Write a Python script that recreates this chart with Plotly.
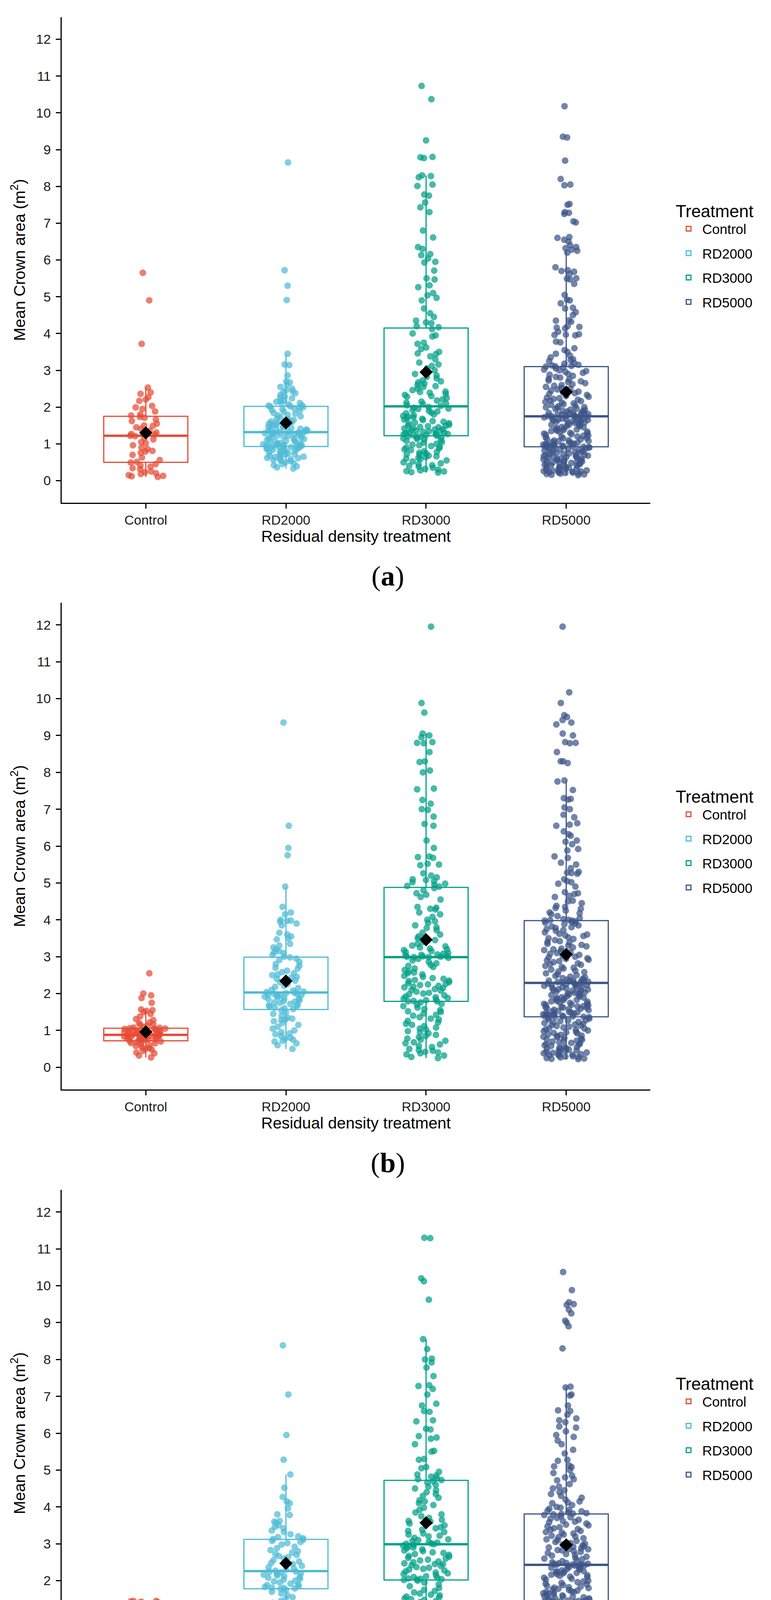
import plotly.graph_objects as go

treatments = ["Control", "RD2000", "RD3000", "RD5000"]
colours = ["#E64B35", "#4DBBD5", "#00A087", "#3C5488"]
point_colours = ["rgba(230,75,53,0.72)", "rgba(77,187,213,0.72)",
                 "rgba(0,160,135,0.72)", "rgba(60,84,136,0.72)"]

# ---- panel (a) ----
a_control = [5.65, 4.90, 3.72, 2.53, 2.40, 2.36, 2.27, 2.21, 2.17, 2.03, 1.99, 1.95, 1.88, 1.80, 1.77,
             1.73, 1.71, 1.66, 1.62, 1.55, 1.50, 1.49, 1.45, 1.41, 1.36, 1.31, 1.27, 1.25, 1.22, 1.21,
             1.16, 1.12, 1.05, 1.02, 0.96, 0.90, 0.86, 0.81, 0.79, 0.76, 0.70, 0.63, 0.56, 0.51, 0.49,
             0.45, 0.41, 0.38, 0.34, 0.31, 0.25, 0.23, 0.20, 0.18, 0.15, 0.13, 0.12, 0.10]
a_rd2000 = [8.65, 5.72, 5.30, 4.91, 3.45, 3.16, 3.14, 2.86, 2.70, 2.67, 2.61, 2.55, 2.50, 2.46, 2.43,
            2.41, 2.38, 2.34, 2.29, 2.26, 2.24, 2.19, 2.17, 2.14, 2.11, 2.10, 2.07, 2.05, 2.04, 2.02,
            2.01, 2.00, 1.99, 1.97, 1.94, 1.92, 1.90, 1.87, 1.84, 1.82, 1.79, 1.77, 1.75, 1.71, 1.69,
            1.67, 1.65, 1.63, 1.61, 1.59, 1.57, 1.55, 1.53, 1.52, 1.50, 1.48, 1.46, 1.45, 1.43, 1.41,
            1.40, 1.39, 1.37, 1.36, 1.35, 1.34, 1.33, 1.32, 1.31, 1.30, 1.29, 1.28, 1.27, 1.26, 1.24,
            1.23, 1.22, 1.20, 1.19, 1.17, 1.16, 1.14, 1.13, 1.11, 1.09, 1.08, 1.07, 1.05, 1.04, 1.03,
            1.01, 1.00, 0.99, 0.98, 0.97, 0.96, 0.95, 0.95, 0.94, 0.93, 0.93, 0.92, 0.91, 0.90, 0.88,
            0.87, 0.86, 0.84, 0.83, 0.81, 0.80, 0.79, 0.77, 0.76, 0.74, 0.72, 0.71, 0.70, 0.68, 0.67,
            0.65, 0.64, 0.62, 0.61, 0.59, 0.58, 0.56, 0.55, 0.53, 0.50, 0.47, 0.45, 0.42, 0.39, 0.36, 0.33]
a_rd3000 = [10.73, 10.37, 9.25, 8.80, 8.79, 8.77, 8.30, 8.28, 8.25, 8.05, 8.01, 7.78, 7.75, 7.56, 7.43,
            7.30, 6.80, 6.61, 6.35, 6.30, 6.16, 6.13, 6.04, 5.95, 5.93, 5.71, 5.50, 5.47, 5.31, 5.26,
            5.10, 5.04, 4.97, 4.90, 4.68, 4.55, 4.45, 4.35, 4.30, 4.28, 4.20, 4.17, 4.12, 4.00, 3.95,
            3.92, 3.75, 3.72, 3.62, 3.58, 3.50, 3.46, 3.44, 3.38, 3.30, 3.21, 3.16, 3.12, 3.05, 3.00,
            2.95, 2.90, 2.86, 2.82, 2.78, 2.72, 2.70, 2.67, 2.64, 2.60, 2.57, 2.55, 2.50, 2.46, 2.42,
            2.41, 2.39, 2.36, 2.33, 2.30, 2.28, 2.25, 2.21, 2.18, 2.15, 2.12, 2.10, 2.08, 2.05, 2.03,
            2.00, 1.98, 1.96, 1.95, 1.92, 1.90, 1.88, 1.85, 1.83, 1.80, 1.78, 1.76, 1.74, 1.72, 1.70,
            1.68, 1.66, 1.65, 1.62, 1.60, 1.58, 1.56, 1.55, 1.52, 1.50, 1.49, 1.48, 1.46, 1.45, 1.43,
            1.42, 1.40, 1.39, 1.38, 1.36, 1.35, 1.34, 1.33, 1.32, 1.30, 1.29, 1.28, 1.27, 1.26, 1.25,
            1.24, 1.23, 1.22, 1.21, 1.20, 1.18, 1.17, 1.15, 1.13, 1.12, 1.10, 1.08, 1.05, 1.03, 1.00,
            0.98, 0.96, 0.94, 0.92, 0.90, 0.88, 0.85, 0.83, 0.80, 0.78, 0.76, 0.74, 0.72, 0.70, 0.68,
            0.66, 0.64, 0.62, 0.60, 0.58, 0.55, 0.52, 0.50, 0.47, 0.45, 0.42, 0.40, 0.38, 0.35, 0.32,
            0.30, 0.28, 0.26, 0.25, 0.23, 0.22]
a_rd5000 = [10.18, 9.35, 9.33, 8.70, 8.20, 8.05, 8.03, 7.52, 7.50, 7.30, 7.28, 7.25, 7.05, 7.02, 6.62,
            6.60, 6.55, 6.50, 6.40, 6.35, 6.32, 6.28, 6.25, 6.20, 5.80, 5.72, 5.70, 5.68, 5.62, 5.50,
            5.49, 5.47, 5.35, 5.05, 4.92, 4.90, 4.82, 4.70, 4.68, 4.58, 4.50, 4.36, 4.35, 4.32, 4.20,
            4.18, 4.16, 4.14, 4.05, 3.98, 3.97, 3.96, 3.95, 3.78, 3.76, 3.60, 3.55, 3.50, 3.45, 3.40,
            3.35, 3.30, 3.28, 3.25, 3.20, 3.18, 3.15, 3.13, 3.12, 3.11, 3.10, 3.08, 3.05, 3.02, 3.00,
            2.98, 2.96, 2.93, 2.90, 2.88, 2.85, 2.82, 2.80, 2.77, 2.75, 2.72, 2.70, 2.68, 2.65, 2.62,
            2.60, 2.58, 2.55, 2.52, 2.50, 2.48, 2.45, 2.42, 2.40, 2.38, 2.36, 2.33, 2.30, 2.28, 2.26,
            2.24, 2.22, 2.20, 2.18, 2.16, 2.14, 2.12, 2.10, 2.08, 2.06, 2.04, 2.02, 2.00, 1.99, 1.98,
            1.96, 1.95, 1.93, 1.92, 1.90, 1.89, 1.88, 1.86, 1.85, 1.84, 1.83, 1.82, 1.81, 1.80, 1.79,
            1.78, 1.77, 1.76, 1.76, 1.75, 1.75, 1.74, 1.73, 1.72, 1.71, 1.70, 1.69, 1.68, 1.67, 1.66,
            1.65, 1.64, 1.63, 1.62, 1.61, 1.60, 1.58, 1.57, 1.56, 1.55, 1.53, 1.52, 1.50, 1.49, 1.48,
            1.46, 1.45, 1.43, 1.42, 1.40, 1.39, 1.37, 1.36, 1.35, 1.33, 1.32, 1.30, 1.29, 1.28, 1.26,
            1.25, 1.23, 1.22, 1.20, 1.19, 1.18, 1.16, 1.15, 1.13, 1.12, 1.10, 1.09, 1.08, 1.07, 1.05,
            1.04, 1.03, 1.02, 1.01, 1.00, 0.99, 0.98, 0.97, 0.96, 0.95, 0.95, 0.94, 0.93, 0.93, 0.92,
            0.92, 0.91, 0.90, 0.90, 0.88, 0.87, 0.87, 0.85, 0.83, 0.82, 0.82, 0.80, 0.78, 0.77, 0.77,
            0.75, 0.73, 0.72, 0.70, 0.70, 0.69, 0.67, 0.65, 0.64, 0.64, 0.62, 0.60, 0.59, 0.58, 0.56,
            0.55, 0.55, 0.53, 0.51, 0.50, 0.49, 0.48, 0.46, 0.45, 0.45, 0.43, 0.42, 0.41, 0.40, 0.38,
            0.37, 0.36, 0.35, 0.35, 0.33, 0.32, 0.31, 0.30, 0.30, 0.28, 0.27, 0.26, 0.25, 0.25, 0.24,
            0.23, 0.22, 0.22, 0.21, 0.20, 0.19, 0.18, 0.17, 0.16, 0.15, 0.62, 0.58, 0.48, 0.52, 0.68, 0.74]
a_q1 = [0.50, 0.93, 1.22, 0.92]
a_median = [1.22, 1.32, 2.02, 1.75]
a_q3 = [1.75, 2.02, 4.15, 3.10]
a_low = [0.10, 0.33, 0.22, 0.15]
a_high = [2.53, 3.45, 8.30, 6.28]
a_mean = [1.30, 1.57, 2.95, 2.41]

# ---- panel (b) ----
b_control = [2.55, 2.00, 1.95, 1.88, 1.75, 1.57, 1.55, 1.53, 1.50, 1.45, 1.38, 1.31, 1.28, 1.22, 1.20,
             1.17, 1.15, 1.12, 1.10, 1.08, 1.07, 1.06, 1.05, 1.05, 1.04, 1.03, 1.02, 1.01, 1.00, 0.99,
             0.99, 0.98, 0.97, 0.96, 0.95, 0.94, 0.93, 0.92, 0.91, 0.90, 0.89, 0.88, 0.87, 0.86, 0.86,
             0.85, 0.84, 0.83, 0.82, 0.81, 0.80, 0.80, 0.79, 0.78, 0.77, 0.76, 0.75, 0.74, 0.73, 0.72,
             0.72, 0.70, 0.68, 0.66, 0.65, 0.62, 0.60, 0.58, 0.55, 0.52, 0.50, 0.48, 0.45, 0.40, 0.38,
             0.32, 0.27]
b_rd2000 = [9.35, 6.55, 5.95, 5.75, 4.90, 4.35, 4.20, 4.15, 4.00, 3.98, 3.97, 3.95, 3.90, 3.85, 3.65,
            3.60, 3.55, 3.50, 3.47, 3.35, 3.30, 3.25, 3.20, 3.15, 3.12, 3.10, 3.05, 3.00, 2.98, 2.95,
            2.91, 2.86, 2.80, 2.76, 2.70, 2.68, 2.62, 2.58, 2.55, 2.52, 2.50, 2.45, 2.43, 2.40, 2.35,
            2.31, 2.26, 2.21, 2.18, 2.15, 2.10, 2.08, 2.05, 2.04, 2.02, 2.01, 2.00, 1.99, 1.98, 1.96,
            1.95, 1.93, 1.92, 1.90, 1.88, 1.86, 1.85, 1.82, 1.80, 1.78, 1.76, 1.75, 1.72, 1.70, 1.68,
            1.66, 1.65, 1.62, 1.60, 1.58, 1.55, 1.50, 1.45, 1.40, 1.35, 1.32, 1.30, 1.28, 1.25, 1.20,
            1.15, 1.10, 1.05, 1.00, 0.95, 0.92, 0.90, 0.85, 0.80, 0.78, 0.75, 0.72, 0.70, 0.65, 0.60, 0.50]
b_rd3000 = [11.95, 9.88, 9.62, 9.05, 9.00, 8.95, 8.82, 8.80, 8.79, 8.55, 8.30, 8.28, 8.05, 8.00, 7.56,
            7.54, 7.25, 7.15, 7.00, 6.98, 6.80, 6.60, 6.55, 6.15, 5.95, 5.72, 5.70, 5.68, 5.52, 5.50,
            5.48, 5.26, 5.20, 5.15, 5.10, 5.08, 5.05, 5.02, 4.98, 4.95, 4.92, 4.90, 4.86, 4.80, 4.72,
            4.68, 4.62, 4.55, 4.35, 4.33, 4.30, 4.28, 4.20, 4.15, 4.08, 4.00, 3.96, 3.92, 3.85, 3.80,
            3.78, 3.72, 3.65, 3.60, 3.55, 3.52, 3.50, 3.45, 3.40, 3.35, 3.30, 3.28, 3.25, 3.22, 3.20,
            3.18, 3.15, 3.12, 3.10, 3.08, 3.05, 3.03, 3.01, 3.00, 3.00, 2.99, 2.99, 3.02, 3.06, 2.97,
            2.94, 2.90, 2.86, 2.82, 2.78, 2.75, 2.72, 2.68, 2.64, 2.60, 2.57, 2.55, 2.52, 2.48, 2.45,
            2.42, 2.40, 2.37, 2.34, 2.31, 2.28, 2.25, 2.23, 2.21, 2.19, 2.17, 2.15, 2.12, 2.10, 2.08,
            2.05, 2.02, 2.00, 1.98, 1.95, 1.92, 1.90, 1.88, 1.86, 1.84, 1.82, 1.80, 1.79, 1.79, 2.26,
            2.35, 1.76, 1.72, 1.70, 1.66, 1.62, 1.58, 1.55, 1.52, 1.50, 1.46, 1.42, 1.40, 1.36, 1.32,
            1.30, 1.26, 1.22, 1.18, 1.15, 1.12, 1.08, 1.05, 1.02, 0.98, 0.95, 0.92, 0.88, 0.85, 0.82,
            0.78, 0.75, 0.72, 0.68, 0.65, 0.62, 0.58, 0.55, 0.50, 0.47, 0.45, 0.42, 0.40, 0.38, 0.35,
            0.32, 0.28, 0.25]
b_rd5000 = [11.95, 10.17, 9.88, 9.55, 9.50, 9.42, 9.35, 9.30, 9.05, 9.00, 8.82, 8.80, 8.79, 8.55, 8.30,
            8.30, 8.25, 7.78, 7.75, 7.52, 7.30, 7.28, 7.26, 7.05, 7.00, 6.78, 6.62, 6.58, 6.55, 6.40,
            6.28, 6.15, 6.12, 5.92, 5.88, 5.72, 5.68, 5.55, 5.50, 5.30, 5.28, 5.27, 5.25, 5.05, 4.98,
            4.90, 4.75, 4.72, 4.70, 4.65, 4.52, 4.50, 4.45, 4.35, 4.32, 4.30, 4.25, 4.20, 4.18, 4.15,
            4.10, 4.05, 4.02, 4.00, 3.99, 3.98, 3.98, 4.38, 4.62, 5.02, 5.10, 5.40, 6.05, 6.32, 6.85,
            3.96, 3.94, 3.92, 3.90, 3.88, 3.85, 3.82, 3.80, 3.78, 3.75, 3.72, 3.70, 3.66, 3.62, 3.60,
            3.58, 3.56, 3.52, 3.50, 3.48, 3.45, 3.42, 3.40, 3.38, 3.35, 3.32, 3.30, 3.28, 3.25, 3.22,
            3.20, 3.18, 3.15, 3.12, 3.10, 3.08, 3.05, 3.02, 3.00, 2.98, 2.96, 2.94, 2.92, 2.90, 2.88,
            2.85, 2.82, 2.80, 2.78, 2.75, 2.72, 2.70, 2.68, 2.65, 2.62, 2.60, 2.58, 2.55, 2.52, 2.50,
            2.48, 2.46, 2.44, 2.42, 2.40, 2.38, 2.37, 2.36, 2.35, 2.34, 2.33, 2.32, 2.31, 2.30, 2.30,
            2.28, 2.27, 2.26, 2.25, 2.24, 2.22, 2.21, 2.20, 2.18, 2.17, 2.15, 2.14, 2.12, 2.10, 2.09,
            2.08, 2.06, 2.05, 2.03, 2.02, 2.00, 1.99, 1.98, 1.96, 1.95, 1.93, 1.92, 1.90, 1.89, 1.88,
            1.86, 1.85, 1.83, 1.82, 1.80, 1.79, 1.78, 1.76, 1.75, 1.73, 1.72, 1.70, 1.69, 1.68, 1.66,
            1.65, 1.63, 1.62, 1.60, 1.59, 1.58, 1.56, 1.55, 1.53, 1.52, 1.50, 1.49, 1.48, 1.47, 1.46,
            1.45, 1.44, 1.43, 1.42, 1.41, 1.40, 1.39, 1.38, 1.38, 1.37, 1.37, 1.62, 1.64, 2.23, 2.11,
            1.36, 1.34, 1.32, 1.30, 1.28, 1.27, 1.25, 1.23, 1.22, 1.20, 1.18, 1.16, 1.15, 1.13, 1.12,
            1.10, 1.08, 1.06, 1.05, 1.03, 1.02, 1.00, 0.98, 0.96, 0.95, 0.93, 0.92, 0.90, 0.88, 0.86,
            0.85, 0.83, 0.82, 0.80, 0.78, 0.76, 0.75, 0.73, 0.72, 0.70, 0.68, 0.66, 0.65, 0.63, 0.62,
            0.60, 0.58, 0.56, 0.55, 0.53, 0.52, 0.50, 0.49, 0.48, 0.46, 0.45, 0.44, 0.42, 0.41, 0.40,
            0.39, 0.38, 0.36, 0.35, 0.34, 0.33, 0.32, 0.30, 0.29, 0.28, 0.27, 0.25, 0.24, 0.23, 0.22]
b_q1 = [0.72, 1.57, 1.79, 1.37]
b_median = [0.88, 2.03, 2.99, 2.29]
b_q3 = [1.06, 2.99, 4.88, 3.98]
b_low = [0.27, 0.50, 0.25, 0.22]
b_high = [1.53, 4.90, 9.05, 7.77]
b_mean = [0.96, 2.34, 3.46, 3.06]

# ---- panel (c) ----
c_control = [1.45, 1.45, 1.44, 1.43, 1.42, 1.40, 1.38, 1.35, 1.33, 1.30, 1.25, 1.20, 1.15, 1.10, 1.06,
             1.03, 1.00, 0.96, 0.93, 0.90, 0.87, 0.84, 0.81, 0.78, 0.76, 0.74, 0.73, 0.72, 0.71, 0.70,
             0.69, 0.68, 0.66, 0.65, 0.63, 0.62, 0.60, 0.58, 0.57, 0.55, 0.52, 0.48, 0.45, 0.42, 0.38,
             0.35, 0.30, 0.25, 0.23, 0.12]
c_rd2000 = [8.38, 7.05, 5.95, 5.28, 4.88, 4.52, 4.27, 4.15, 4.10, 3.96, 3.80, 3.78, 3.62, 3.60, 3.57,
            3.50, 3.46, 3.42, 3.36, 3.32, 3.26, 3.20, 3.18, 3.15, 3.13, 3.11, 3.08, 3.05, 3.02, 2.98,
            2.92, 2.88, 2.83, 2.80, 2.76, 2.72, 2.70, 2.67, 2.64, 2.60, 2.56, 2.52, 2.48, 2.45, 2.40,
            2.36, 2.33, 2.30, 2.27, 2.25, 2.24, 2.22, 2.20, 2.18, 2.16, 2.14, 2.12, 2.10, 2.08, 2.05,
            2.03, 2.00, 1.98, 1.95, 1.92, 1.90, 1.88, 1.85, 1.83, 1.81, 1.80, 1.79, 1.78, 1.75, 1.70,
            1.65, 1.60, 1.55, 1.50, 1.45, 1.40, 1.35, 1.32, 1.28, 1.25, 1.20, 1.15, 1.10, 1.05, 1.00,
            0.96, 0.92, 0.85, 0.80, 0.74, 0.70, 0.68, 0.50]
c_rd3000 = [11.30, 11.29, 10.20, 10.12, 9.62, 8.55, 8.28, 8.02, 8.00, 7.92, 7.78, 7.55, 7.30, 7.28, 7.20,
            7.05, 6.80, 6.75, 6.60, 6.58, 6.35, 6.32, 6.12, 6.10, 5.92, 5.88, 5.85, 5.70, 5.52, 5.50,
            5.30, 5.28, 5.08, 5.05, 4.95, 4.88, 4.85, 4.82, 4.78, 4.75, 4.73, 4.70, 4.66, 4.60, 4.55,
            4.50, 4.45, 4.40, 4.35, 4.30, 4.25, 4.18, 4.15, 4.10, 4.05, 3.98, 3.92, 3.85, 3.80, 3.75,
            3.70, 3.65, 3.60, 3.55, 3.50, 3.45, 3.42, 3.38, 3.35, 3.32, 3.28, 3.25, 3.22, 3.20, 3.16,
            3.12, 3.10, 3.08, 3.05, 3.03, 3.01, 3.00, 2.99, 3.62, 2.97, 2.95, 2.92, 2.90, 2.88, 2.85,
            2.82, 2.80, 2.77, 2.75, 2.72, 2.70, 2.67, 2.65, 2.62, 2.60, 2.57, 2.55, 2.52, 2.50, 2.47,
            2.45, 2.42, 2.40, 2.37, 2.35, 2.32, 2.30, 2.28, 2.25, 2.22, 2.20, 2.18, 2.15, 2.12, 2.10,
            2.08, 2.06, 2.05, 2.04, 2.03, 2.02, 2.45, 2.00, 1.95, 1.90, 1.85, 1.80, 1.75, 1.72, 1.68,
            1.65, 1.62, 1.60, 1.57, 1.55, 1.52, 1.50, 1.45, 1.42, 1.38, 1.35, 1.30, 1.25, 1.22, 1.20,
            1.15, 1.12, 1.10, 1.05, 1.02, 1.00, 0.95, 0.90, 0.85, 0.75, 0.65, 0.62, 0.58, 0.50, 0.47,
            0.42, 0.35, 0.32, 0.30, 1.48]
c_rd5000 = [10.37, 9.88, 9.55, 9.50, 9.48, 9.35, 9.25, 9.05, 9.00, 8.90, 8.30, 7.26, 7.24, 7.05, 7.02,
            6.75, 6.62, 6.60, 6.40, 6.35, 6.30, 6.18, 6.15, 5.95, 5.90, 5.80, 5.70, 5.45, 5.28, 5.25,
            5.10, 5.08, 5.00, 4.92, 4.80, 4.75, 4.72, 4.55, 4.50, 4.45, 4.40, 4.35, 4.30, 4.25, 4.20,
            4.15, 4.12, 4.10, 4.05, 4.00, 3.95, 3.92, 3.90, 3.88, 3.85, 3.83, 3.82, 3.81, 4.62, 4.85,
            5.12, 5.55, 6.05, 6.50, 3.98, 3.80, 3.78, 3.75, 3.72, 3.70, 3.68, 3.65, 3.62, 3.60, 3.58,
            3.55, 3.52, 3.50, 3.47, 3.45, 3.42, 3.40, 3.38, 3.35, 3.32, 3.30, 3.28, 3.25, 3.22, 3.20,
            3.18, 3.15, 3.12, 3.10, 3.08, 3.05, 3.02, 3.00, 2.98, 2.96, 2.95, 2.93, 2.92, 2.90, 2.88,
            2.86, 2.85, 2.83, 2.82, 2.80, 2.78, 2.75, 2.72, 2.70, 2.68, 2.65, 2.62, 2.60, 2.58, 2.55,
            2.53, 2.50, 2.48, 2.47, 2.46, 2.45, 2.44, 2.44, 2.43, 2.43, 2.42, 2.41, 2.40, 2.38, 2.37,
            2.35, 2.33, 2.32, 2.30, 2.28, 2.26, 2.25, 2.23, 2.21, 2.20, 2.18, 2.16, 2.15, 2.13, 2.11,
            2.10, 2.08, 2.05, 2.03, 2.00, 1.98, 1.96, 1.94, 1.92, 1.90, 1.88, 1.86, 1.84, 1.82, 1.80,
            1.78, 1.76, 1.75, 1.73, 1.71, 1.70, 1.68, 1.66, 1.65, 1.63, 1.61, 1.60, 1.58, 1.56, 1.55,
            1.53, 1.52, 1.50, 1.49, 1.48, 1.47, 1.46, 1.45, 1.45, 1.44, 1.44, 1.57, 1.69, 1.81, 2.24,
            1.43, 1.42, 1.40, 1.38, 1.36, 1.35, 1.33, 1.31, 1.30, 1.28, 1.26, 1.25, 1.23, 1.21, 1.20,
            1.18, 1.16, 1.15, 1.13, 1.12, 1.10, 1.08, 1.06, 1.05, 1.03, 1.02, 1.00, 0.98, 0.96, 0.95,
            0.93, 0.92, 0.90, 0.88, 0.86, 0.85, 0.82, 0.80, 0.78, 0.76, 0.75, 0.72, 0.70, 0.68, 0.65,
            0.62, 0.60, 0.58, 0.55, 0.52, 0.50, 0.48, 0.45, 0.42, 0.40, 0.38, 0.35, 0.32, 0.30, 0.28,
            0.25, 0.22, 1.17, 1.27, 1.37]
c_q1 = [0.56, 1.78, 2.02, 1.44]
c_median = [0.73, 2.26, 2.99, 2.43]
c_q3 = [1.13, 3.12, 4.72, 3.81]
c_low = [0.12, 0.50, 0.30, 0.22]
c_high = [1.45, 4.88, 8.55, 7.26]
c_mean = [0.82, 2.47, 3.57, 2.97]

panels = [
    dict(label="a", top=44, bottom=1287,
         points=[a_control, a_rd2000, a_rd3000, a_rd5000],
         q1=a_q1, median=a_median, q3=a_q3, low=a_low, high=a_high, mean=a_mean),
    dict(label="b", top=1543, bottom=2789,
         points=[b_control, b_rd2000, b_rd3000, b_rd5000],
         q1=b_q1, median=b_median, q3=b_q3, low=b_low, high=b_high, mean=b_mean),
    dict(label="c", top=3046, bottom=4292,
         points=[c_control, c_rd2000, c_rd3000, c_rd5000],
         q1=c_q1, median=c_median, q3=c_q3, low=c_low, high=c_high, mean=c_mean),
]

W, H = 1974, 4541
OFF = 8  # page body margin, subtracted so the figure lands where the reference is
font_family = "Liberation Sans, Arial, sans-serif"


def px_x(px):
    return (px - OFF) / W


def px_y(px):
    # pixel row -> paper fraction
    return 1 - (px - OFF) / H


fig = go.Figure()
layout = {}
annotations = []

for i, p in enumerate(panels):
    sfx = "" if i == 0 else str(i + 1)
    xa, ya = "x" + sfx, "y" + sfx
    leg = "legend" + sfx
    for j, t in enumerate(treatments):
        # box + whiskers
        fig.add_trace(go.Box(
            x=[t], q1=[p["q1"][j]], median=[p["median"][j]], q3=[p["q3"][j]],
            lowerfence=[p["low"][j]], upperfence=[p["high"][j]],
            width=0.6, whiskerwidth=0, boxpoints=False,
            line=dict(color=colours[j], width=3), fillcolor="rgba(255,255,255,0)",
            name=t, legend=leg, legendgroup=t + sfx, showlegend=True,
            xaxis=xa, yaxis=ya, hoverinfo="skip"))
        # thicker median bar
        m = p["median"][j]
        fig.add_trace(go.Box(
            x=[t], q1=[m], median=[m], q3=[m], lowerfence=[m], upperfence=[m],
            width=0.6, whiskerwidth=0, boxpoints=False,
            line=dict(color=colours[j], width=6), fillcolor="rgba(255,255,255,0)",
            name=t, legendgroup=t + sfx, showlegend=False, xaxis=xa, yaxis=ya, hoverinfo="skip"))
        # jittered observations
        vals = p["points"][j]
        fig.add_trace(go.Box(
            x=[t] * len(vals), y=vals, boxpoints="all", jitter=0.55, pointpos=0,
            width=0.6, whiskerwidth=0, name=t,
            line=dict(color="rgba(0,0,0,0)", width=0), fillcolor="rgba(0,0,0,0)",
            marker=dict(color=point_colours[j], size=17, line=dict(width=0)),
            legendgroup=t + sfx, showlegend=False, xaxis=xa, yaxis=ya))
    # means
    fig.add_trace(go.Scatter(
        x=treatments, y=p["mean"], mode="markers", name="mean",
        marker=dict(symbol="diamond", size=26, color="black"),
        showlegend=False, xaxis=xa, yaxis=ya))

    axis_style = dict(showline=True, linecolor="black", linewidth=3, ticks="outside",
                      ticklen=12, tickwidth=3, tickcolor="black", showgrid=False,
                      zeroline=False, tickfont=dict(size=34, color="#1a1a1a", family=font_family))
    layout["xaxis" + sfx] = dict(
        axis_style, type="category", categoryorder="array", categoryarray=treatments,
        range=[-0.6, 3.6], domain=[px_x(158), px_x(1665)], anchor=ya,
        title=dict(text="Residual density treatment", standoff=10,
                   font=dict(size=41, color="black", family=font_family)))
    layout["yaxis" + sfx] = dict(
        axis_style, range=[-0.6, 12.6], tick0=0, dtick=1,
        domain=[px_y(p["bottom"]), px_y(p["top"])], anchor=xa, ticklabelstandoff=6,
        title=dict(text="Mean Crown area (m<sup>2</sup>)", standoff=16,
                   font=dict(size=41, color="black", family=font_family)))
    layout[leg] = dict(
        title=dict(text="Treatment", font=dict(size=44, color="black", family=font_family)),
        font=dict(size=35, color="black", family=font_family),
        x=px_x(1728), xanchor="left", y=px_y(p["top"] + 455), yanchor="top",
        itemwidth=60, tracegroupgap=14, bgcolor="rgba(0,0,0,0)")
    annotations.append(dict(
        text="(<b>" + p["label"] + "</b>)", xref="paper", yref="paper",
        x=px_x(993), y=px_y(p["bottom"] + 188), xanchor="center", yanchor="middle",
        showarrow=False, font=dict(size=72, color="black", family="Liberation Serif, serif")))

fig.update_layout(
    width=W, height=H, margin=dict(l=0, r=0, t=0, b=0),
    paper_bgcolor="white", plot_bgcolor="white",
    font=dict(family=font_family, color="black"),
    boxmode="overlay", annotations=annotations, **layout)

fig.write_html("out.html")
